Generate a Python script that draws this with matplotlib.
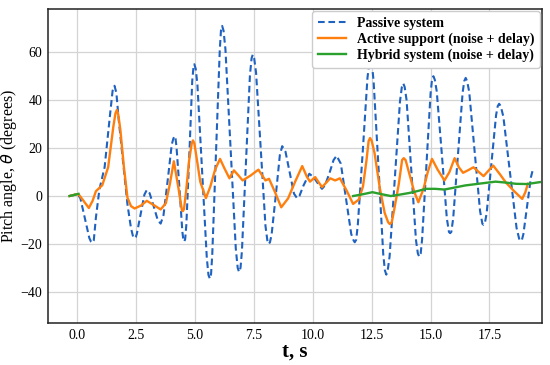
import numpy as np
import matplotlib
matplotlib.use('Agg')
import matplotlib.pyplot as plt

plt.rcParams['font.family'] = ['Liberation Serif', 'DejaVu Serif']
plt.rcParams['mathtext.fontset'] = 'dejavusans'

# passive system
t_passive = [-0.33, -0.15, 0.0, 0.13, 0.32, 0.51, 0.58, 0.64, 0.70, 0.79, 0.94, 1.16, 1.38, 1.50, 1.58, 1.66,
             1.76, 1.98, 2.13, 2.28, 2.37, 2.43, 2.48, 2.53, 2.69, 2.85, 2.95, 3.07, 3.25, 3.42, 3.54, 3.66,
             3.84, 4.01, 4.08, 4.13, 4.17, 4.21, 4.34, 4.46, 4.50, 4.54, 4.58, 4.63, 4.76, 4.88, 4.93, 4.97,
             5.03, 5.10, 5.30, 5.50, 5.57, 5.63, 5.68, 5.73, 5.89, 6.05, 6.10, 6.15, 6.21, 6.29, 6.51, 6.73,
             6.81, 6.87, 6.93, 6.99, 7.16, 7.33, 7.40, 7.45, 7.51, 7.59, 7.79, 7.99, 8.08, 8.13, 8.18, 8.25,
             8.43, 8.60, 8.70, 8.84, 9.02, 9.20, 9.33, 9.43, 9.60, 9.85, 10.03, 10.20, 10.39, 10.52, 10.72,
             10.88, 11.01, 11.19, 11.41, 11.63, 11.73, 11.78, 11.84, 11.91, 12.12, 12.32, 12.39, 12.45, 12.51,
             12.58, 12.79, 12.99, 13.06, 13.12, 13.18, 13.26, 13.48, 13.70, 13.78, 13.84, 13.90, 13.98, 14.18,
             14.38, 14.46, 14.52, 14.58, 14.64, 14.82, 15.00, 15.06, 15.12, 15.18, 15.26, 15.48, 15.69, 15.78,
             15.83, 15.88, 15.96, 16.16, 16.36, 16.43, 16.49, 16.55, 16.64, 16.87, 17.10, 17.20, 17.25, 17.30,
             17.38, 17.58, 17.78, 17.85, 17.91, 17.98, 18.09, 18.37, 18.65, 18.77, 18.83, 18.88, 18.94, 19.10,
             19.26, 19.33, 19.42]
passive = [0, 0.4, 1.0, -0.9, -9.2, -17.5, -19.0, -19.5, -18.5, -9, 2.8, 12, 33, 44, 46, 43,
           31.7, 10.6, -3.5, -13.4, -17.0, -17.6, -17.2, -15.7, -7.5, 0.6, 2.5, 1.2, -4.5, -10.2, -11.5, -8.0,
           6.7, 21.5, 24, 25, 24, 20.8, 3, -14.8, -18, -19, -18, -12, 18, 48, 53.5, 55,
           53, 46.5, 10.2, -26, -33, -34.5, -32.5, -24.5, 18.2, 61, 69, 71, 69, 61.2, 19.6, -22,
           -30, -31.7, -30, -23, 13.6, 50.4, 57.5, 59, 57.5, 51.5, 19.5, -12.5, -19.3, -20, -19.3, -16.1,
           0.5, 17.1, 20.8, 18.5, 9.8, 1, -0.9, 0, 4.3, 9.3, 7.9, 5.5, 3, 4.5, 10,
           15, 16.8, 13.5, -1.2, -15.8, -18.5, -19.3, -18.3, -12.1, 18.6, 49.3, 55, 56.5, 55,
           48, 11.8, -24.3, -31, -32.8, -31, -25.2, 7.1, 39.4, 45.5, 47, 45.5, 40.1, 10.8,
           -18.4, -24, -25.3, -24, -18.1, 12.3, 42.8, 48.5, 50, 48.5, 43.8, 17.2, -9.3, -15,
           -15.5, -15, -9.3, 16.9, 43.1, 48, 49.3, 48, 43.5, 18.6, -6.2, -11.6, -12, -11.6,
           -7.2, 13.2, 33.7, 37.5, 38.5, 37.5, 33.1, 9.9, -13.3, -18.2, -18.7, -18.2, -15.9, -4,
           7.8, 10.6, 10]

# active support (noise + delay)
t_active = [-0.33, -0.1, 0.05, 0.25, 0.49, 0.65, 0.79, 1.06, 1.31, 1.53, 1.62, 1.68, 1.74, 1.83, 1.98, 2.13,
            2.28, 2.43, 2.7, 2.95, 3.25, 3.54, 3.76, 3.93, 4.10, 4.30, 4.44, 4.48, 4.53, 4.62, 4.75, 4.86,
            4.91, 4.97, 5.05, 5.22, 5.46, 5.65, 5.85, 6.06, 6.25, 6.46, 6.65, 6.85, 7.02, 7.35, 7.69, 7.99,
            8.14, 8.40, 8.66, 8.95, 9.25, 9.55, 9.75, 9.88, 10.1, 10.39, 10.74, 10.95, 11.15, 11.45, 11.71,
            11.95, 12.13, 12.28, 12.37, 12.43, 12.50, 12.62, 12.85, 13.05, 13.20, 13.27, 13.35, 13.45, 13.65,
            13.79, 13.86, 13.94, 14.05, 14.3, 14.48, 14.7, 14.88, 15.06, 15.3, 15.59, 15.8, 16.02, 16.2,
            16.38, 16.6, 16.82, 17.05, 17.25, 17.45, 17.66, 17.95, 18.2, 18.55, 18.89, 19.02, 19.13]
active = [0, 0.6, 0.8, -1.8, -5, -2, 2, 4.5, 12, 28.9, 34.5, 35.9, 34, 27.5, 12, -0.7,
          -4.2, -5.2, -4, -2, -3.8, -5.6, -3, 5, 14.5, 3, -5.8, -6.3, -5.5, 2, 15, 22,
          23.2, 22, 17, 6, -0.9, 4, 11, 15.5, 11.5, 7.4, 10.7, 8.5, 6.5, 8.5, 11, 6.5,
          7.2, 1.5, -4.7, -1, 6, 12.5, 8, 6, 7.9, 3.7, 7.4, 6.5, 7.4, 2, -3.3,
          -1.5, 4, 15, 23, 24.2, 23, 18, 3, -7, -11, -11.7, -11, -6, 5,
          15, 15.8, 15, 11, 2, -2.6, 3, 10, 15.5, 11, 6.5, 10, 15.8, 12,
          9.7, 10.8, 12, 10, 8.3, 10.5, 12.7, 9, 5.6, 2, -1.2, 1.5, 5.1]

# hybrid system (noise + delay), only visible at start and after ~11.7 s
t_hybrid = [-0.33, -0.15, 0.05, np.nan, 11.71, 12.1, 12.53, 12.9, 13.31, 13.7, 14.11, 14.5, 14.79, 15.2,
            15.59, 16.0, 16.46, 17.1, 17.76, 18.2, 18.63, 19.1, 19.64]
hybrid = [0, 0.4, 0.9, np.nan, 0, 0.7, 1.6, 0.8, 0, 0.6, 1.3, 2.2, 3.0, 3.0,
          2.7, 3.5, 4.4, 5.2, 6.0, 5.6, 5.1, 5.0, 5.8]

fig = plt.figure(figsize=(5.5, 3.65), dpi=100)
ax = fig.add_axes([0.087, 0.115, 0.898, 0.86])

ax.plot(t_passive, passive, color='#1f62c0', linewidth=1.5, dashes=(3.2, 1.8), label='Passive system')
ax.plot(t_active, active, color='#ff7f0e', linewidth=1.7, label='Active support (noise + delay)')
ax.plot(t_hybrid, hybrid, color='#2ca02c', linewidth=1.7, label='Hybrid system (noise + delay)')

ax.set_xlim(-1.25, 19.72)
ax.set_ylim(-53, 78)
ax.set_xticks(np.arange(0, 17.6, 2.5))
ax.set_yticks([-40, -20, 0, 20, 40, 60])
ax.grid(True, color='#d4d4d4', linewidth=0.9)
ax.set_axisbelow(True)
ax.tick_params(axis='both', length=0, labelsize=10, pad=4)
for s in ax.spines.values():
    s.set_color('#222222')
    s.set_linewidth(1.1)

ax.set_xlabel('t, s', fontsize=15, fontweight='bold', labelpad=0)
ax.set_ylabel(r'Pitch angle, $\theta$ (degrees)', fontsize=11.5)
ax.yaxis.set_label_coords(-0.058, 0.5)

legend = ax.legend(loc='upper right', prop={'weight': 'bold', 'size': 10}, borderaxespad=0.15,
                   handlelength=2.0, labelspacing=0.2, framealpha=1)
legend.get_frame().set_edgecolor('#cccccc')

fig.savefig('out.png', dpi=100)
